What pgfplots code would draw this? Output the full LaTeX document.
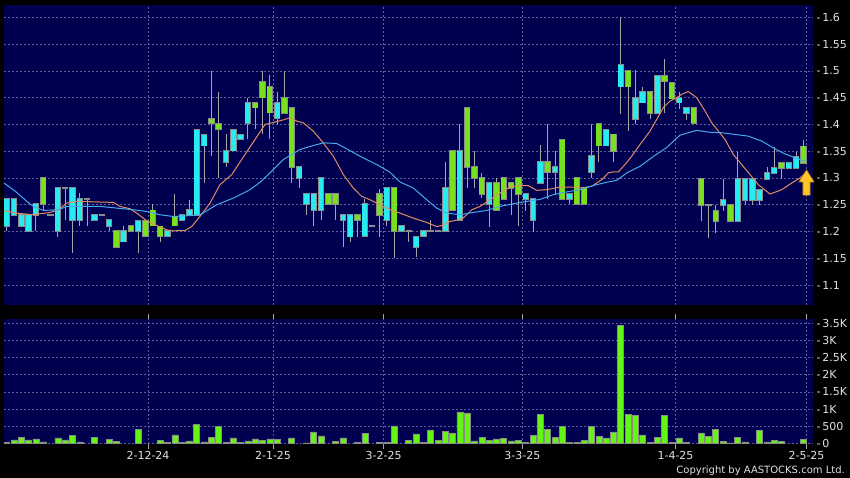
\documentclass[border=0pt]{standalone}
\usepackage{fontspec}
\setmainfont{DejaVu Sans}
\usepackage{pgfplots}
\usepackage{pgfplotstable}
\pgfplotsset{compat=1.18}

\definecolor{navy}{RGB}{0,0,80}
\definecolor{gridc}{RGB}{95,95,150}
\definecolor{cyanc}{RGB}{40,235,240}
\definecolor{greenc}{RGB}{120,225,30}
\definecolor{volg}{RGB}{100,245,20}
\definecolor{edgec}{RGB}{140,140,140}
\definecolor{wickc}{RGB}{165,165,165}
\definecolor{maA}{RGB}{225,140,95}
\definecolor{maB}{RGB}{70,170,235}
\definecolor{txt}{RGB}{225,225,225}
\definecolor{arrowc}{RGB}{255,200,40}
\definecolor{arrowe}{RGB}{200,130,20}

% x lo bot top hi
\pgfplotstableread{
x lo bot top hi
0 1.201 1.2106 1.2606 1.2606
1 1.231 1.231 1.2606 1.2606
2 1.2106 1.2106 1.2306 1.2306
3 1.2013 1.2013 1.2306 1.2306
4 1.2013 1.2313 1.2513 1.2513
7 1.1906 1.2013 1.2813 1.2813
9 1.1606 1.2213 1.2813 1.2813
10 1.2106 1.2213 1.2606 1.2719
12 1.2213 1.2213 1.2306 1.2306
14 1.2013 1.2106 1.2213 1.2213
16 1.1813 1.1813 1.2013 1.2106
18 1.1606 1.2012 1.22 1.22
22 1.1919 1.1919 1.2012 1.2012
24 1.2219 1.2219 1.2313 1.2313
25 1.2313 1.2313 1.2406 1.2594
26 1.2313 1.2313 1.3894 1.3894
27 1.2906 1.3606 1.3806 1.3806
30 1.3206 1.33 1.35 1.3813
31 1.3512 1.3512 1.3894 1.3894
32 1.3719 1.3719 1.3806 1.3806
33 1.3719 1.4019 1.44 1.45
37 1.40 1.4113 1.44 1.4613
40 1.2813 1.30 1.3206 1.3206
41 1.2306 1.2513 1.27 1.27
42 1.2106 1.2406 1.27 1.27
43 1.2219 1.2406 1.30 1.30
46 1.1719 1.2219 1.2306 1.2306
47 1.18 1.1906 1.2306 1.2306
49 1.1919 1.1919 1.2513 1.26
52 1.2094 1.2219 1.2813 1.2813
54 1.2012 1.2012 1.2106 1.2106
56 1.153 1.1706 1.1906 1.1906
57 1.1919 1.1919 1.2012 1.2012
60 1.2013 1.2013 1.2813 1.33
62 1.2219 1.2219 1.35 1.40
66 1.208 1.2513 1.2906 1.2906
71 1.239 1.2606 1.2706 1.2706
72 1.20 1.2206 1.2606 1.2606
73 1.2906 1.2906 1.33 1.3613
75 1.2688 1.3113 1.3206 1.35
77 1.251 1.2606 1.2706 1.2706
80 1.30 1.3113 1.3406 1.40
82 1.3606 1.3606 1.3894 1.3894
84 1.4188 1.4706 1.5106 1.60
86 1.40 1.4106 1.45 1.5013
87 1.4406 1.4406 1.4606 1.4706
89 1.4206 1.4206 1.4906 1.4906
92 1.4281 1.4406 1.45 1.4606
93 1.4088 1.4206 1.4313 1.4313
98 1.2388 1.2494 1.2588 1.2981
100 1.2188 1.2188 1.2981 1.3481
101 1.2494 1.2588 1.2981 1.2981
102 1.2494 1.2588 1.2981 1.2981
103 1.2494 1.2588 1.2781 1.2781
104 1.2981 1.2981 1.3088 1.32
105 1.3088 1.3088 1.3188 1.3575
107 1.3188 1.3188 1.3275 1.3275
108 1.3188 1.3188 1.3388 1.3481
}\cyantab

\pgfplotstableread{
x lo bot top hi
5 1.2406 1.2513 1.30 1.30
15 1.1706 1.1706 1.2013 1.2013
17 1.2013 1.2013 1.2106 1.2106
19 1.1919 1.1919 1.22 1.22
20 1.2112 1.2112 1.2394 1.2513
21 1.1813 1.1919 1.2094 1.2094
23 1.2112 1.2112 1.2281 1.27
28 1.3406 1.4019 1.4106 1.50
29 1.30 1.3906 1.4013 1.4613
34 1.3906 1.4313 1.44 1.44
35 1.3813 1.45 1.4794 1.50
36 1.3719 1.4219 1.4706 1.4925
38 1.4206 1.4206 1.4494 1.50
39 1.2906 1.3206 1.4306 1.4306
44 1.2513 1.2513 1.27 1.27
45 1.2219 1.2513 1.27 1.27
48 1.19 1.2219 1.2306 1.2306
51 1.19 1.2313 1.27 1.28
53 1.15 1.2013 1.2813 1.2813
61 1.2406 1.2406 1.35 1.35
63 1.2813 1.3206 1.4313 1.4313
64 1.2813 1.30 1.3206 1.35
65 1.2625 1.2706 1.30 1.31
67 1.2406 1.2406 1.2906 1.30
68 1.2606 1.2606 1.30 1.30
69 1.2313 1.2813 1.2906 1.2906
70 1.2106 1.2706 1.30 1.30
74 1.26 1.3113 1.33 1.4013
76 1.2606 1.2606 1.3706 1.3706
78 1.2513 1.2513 1.30 1.30
79 1.2513 1.2513 1.2813 1.2813
81 1.33 1.3606 1.4013 1.4013
83 1.3294 1.35 1.3813 1.3813
85 1.388 1.4706 1.50 1.50
88 1.4106 1.4206 1.4606 1.4606
90 1.4206 1.4806 1.4906 1.5219
91 1.4481 1.4481 1.4781 1.4781
94 1.4019 1.4019 1.4313 1.4313
95 1.2188 1.2494 1.2981 1.2981
97 1.1981 1.2188 1.2388 1.2494
99 1.2188 1.2188 1.2494 1.2494
106 1.2981 1.3188 1.3275 1.3275
109 1.3275 1.3275 1.3588 1.37
}\greentab

\pgfplotstableread{
x lo bot top hi
6 1.2306 1.2306 1.2306 1.2306
8 1.2218 1.2813 1.2813 1.2813
11 1.2106 1.2606 1.2606 1.2606
13 1.2306 1.2306 1.2306 1.2306
50 1.2106 1.2106 1.2106 1.2106
55 1.1813 1.2012 1.2012 1.2012
58 1.2012 1.2012 1.2012 1.2219
59 1.2012 1.2012 1.2012 1.2012
96 1.1888 1.2494 1.2494 1.2494
}\dojitab

\pgfplotstableread{
x y
-0.37 1.2388
1.37 1.2344
3.64 1.2313
5.92 1.2356
7.06 1.2406
8.21 1.2531
9.58 1.2563
14.58 1.2544
15.5 1.2469
16.87 1.2425
17.78 1.2344
19.15 1.22
20.52 1.2112
21.89 1.2031
22.79 1.2013
24.39 1.2019
25.31 1.2094
26.44 1.2281
27.81 1.2531
29.18 1.2875
30.78 1.3063
32.6 1.3438
33.97 1.3719
35.34 1.40
36.7 1.4044
38.07 1.4094
38.76 1.4125
39.67 1.4063
40.57 1.4031
41.94 1.3875
43.31 1.3656
44.68 1.3406
46.05 1.3063
47.41 1.2813
48.56 1.2656
49.7 1.2594
51.3 1.2481
52.44 1.2406
53.8 1.2344
55.62 1.225
57.46 1.2169
58.82 1.2094
59.59 1.2113
60.64 1.2188
62.24 1.2231
62.93 1.2313
63.61 1.2406
64.75 1.2469
66.11 1.2594
67.48 1.2719
68.85 1.2831
69.99 1.2856
71.35 1.2856
72.5 1.2769
73.87 1.2781
75.69 1.2831
77.51 1.2831
78.66 1.2813
80.03 1.2844
81.40 1.2969
82.30 1.3094
82.98 1.3113
83.67 1.3113
84.58 1.325
85.5 1.3406
86.63 1.3625
88.0 1.3875
88.92 1.4094
89.82 1.4313
90.74 1.4438
91.66 1.45
92.34 1.4563
93.24 1.4613
94.39 1.45
95.53 1.425
96.44 1.4031
97.35 1.3875
98.26 1.3719
99.40 1.3438
100.55 1.325
101.68 1.3063
102.82 1.2875
104.42 1.27
106.02 1.2781
107.39 1.2906
108.52 1.30
109.44 1.3106
}\maAtab

\pgfplotstableread{
x y
-0.37 1.2906
1.37 1.2731
2.74 1.2563
3.64 1.2469
5.01 1.2394
7.06 1.2406
8.21 1.2469
12.76 1.2469
14.13 1.2450
17.32 1.2406
19.15 1.2375
20.97 1.2313
22.79 1.2281
24.62 1.2294
26.44 1.2313
28.73 1.25
31.0 1.2625
33.28 1.2781
34.65 1.2919
36.02 1.3094
37.84 1.3344
40.12 1.3531
41.94 1.3606
43.31 1.3656
45.14 1.3644
46.51 1.3544
48.33 1.3406
50.62 1.325
52.44 1.3106
53.8 1.2925
55.62 1.2813
57.46 1.2594
58.82 1.2438
60.19 1.2344
62.01 1.2313
63.83 1.2356
65.66 1.2394
67.48 1.2469
69.30 1.2519
71.14 1.2563
72.96 1.2600
74.78 1.2688
76.61 1.2740
78.43 1.2781
80.25 1.2860
82.08 1.2920
83.45 1.2956
84.82 1.3094
86.64 1.3219
88.45 1.3400
90.29 1.3570
92.11 1.3800
94.39 1.3890
95.98 1.3856
97.81 1.3844
99.63 1.3813
101.45 1.3781
103.28 1.3688
105.10 1.3544
106.47 1.345
107.84 1.3375
109.21 1.3313
}\maBtab

\pgfplotstableread{
x v
0 30
1 97
2 175
3 97
4 126
5 39
7 155
8 97
9 224
10 39
12 175
14 117
15 58
18 398
21 87
22 20
23 243
24 30
25 68
26 554
27 39
28 175
29 496
30 20
31 155
32 20
33 68
34 126
35 78
36 126
37 117
39 155
41 10
42 330
43 214
45 49
46 155
48 20
49 292
51 20
52 20
53 505
55 78
56 272
57 15
58 389
59 87
60 350
61 301
62 914
63 885
64 68
65 165
66 78
67 126
68 146
69 68
70 87
71 20
72 233
73 836
74 398
75 175
76 486
77 20
78 20
79 78
80 496
81 194
82 155
83 330
84 3441
85 846
86 816
87 243
88 20
89 175
90 807
91 25
92 155
93 25
95 301
96 204
97 408
98 58
99 10
100 175
101 39
103 379
104 39
105 78
106 58
109 117
}\voltab

\pgfplotsset{
  nomk/.style={only marks, mark=none, mark size=0pt,
    mark options={draw=none, fill=none}, forget plot},
  wick/.style={nomk,
    error bars/.cd, y dir=plus, y explicit, error mark=none,
    error bar style={draw=wickc, line width=0.9bp, solid}},
  bodyedge/.style={nomk,
    error bars/.cd, y dir=plus, y explicit, error mark=none,
    error bar style={draw=edgec, line width=6.4bp, solid}},
  bodyfill/.style={nomk,
    error bars/.cd, y dir=plus, y explicit, error mark=none,
    error bar style={draw=#1, line width=4.9bp, solid}},
  chartbase/.style={
    scale only axis, anchor=south west,
    xmin=-0.37, xmax=110.3,
    axis background/.style={fill=navy},
    axis line style={draw=none},
    xtick={19.33,36.43,51.55,70.53,91.49,109.41},
    xmajorgrids, ymajorgrids,
    major grid style={gridc, dash pattern=on 2bp off 2bp, line width=0.6bp},
    yticklabel pos=right,
    ytick style={draw=none},
    tick label style={text=txt, font=\fontsize{11bp}{13bp}\selectfont},
    yticklabel style={anchor=west},
  },
}

\begin{document}
\begin{tikzpicture}
\useasboundingbox (0,0) rectangle (850bp,478bp);
\fill[black] (0,0) rectangle (850bp,478bp);

% price panel
\begin{axis}[chartbase,
  at={(4bp,173bp)}, width=809bp, height=300bp,
  ymin=1.0628, ymax=1.623,
  xticklabels={}, major tick length=0pt,
  ytick={1.1,1.15,1.2,1.25,1.3,1.35,1.4,1.45,1.5,1.55,1.6},
  yticklabels={-\,1.1,-\,1.15,-\,1.2,-\,1.25,-\,1.3,-\,1.35,-\,1.4,-\,1.45,-\,1.5,-\,1.55,-\,1.6},
  clip=false]
  % wicks
  \addplot[wick] table[x=x, y=lo, y error plus expr=\thisrow{hi}-\thisrow{lo}] {\cyantab};
  \addplot[wick] table[x=x, y=lo, y error plus expr=\thisrow{hi}-\thisrow{lo}] {\greentab};
  \addplot[wick] table[x=x, y=lo, y error plus expr=\thisrow{hi}-\thisrow{lo}] {\dojitab};
  % bodies
  \addplot[bodyedge] table[x=x, y expr=\thisrow{bot}-0.0015, y error plus expr=\thisrow{top}-\thisrow{bot}+0.003] {\cyantab};
  \addplot[bodyfill=cyanc] table[x=x, y=bot, y error plus expr=\thisrow{top}-\thisrow{bot}] {\cyantab};
  \addplot[bodyedge] table[x=x, y expr=\thisrow{bot}-0.0015, y error plus expr=\thisrow{top}-\thisrow{bot}+0.003] {\greentab};
  \addplot[bodyfill=greenc] table[x=x, y=bot, y error plus expr=\thisrow{top}-\thisrow{bot}] {\greentab};
  \addplot[bodyedge] table[x=x, y expr=\thisrow{bot}-0.0015, y error plus expr=0.003] {\dojitab};
  % moving averages
  \addplot[maA, line width=1bp, no marks] table[x=x, y=y] {\maAtab};
  \addplot[maB, line width=1bp, no marks] table[x=x, y=y] {\maBtab};
  % arrow
  \addplot[fill=arrowc, draw=arrowe, line width=0.6bp, no marks] coordinates {
    (109.41,1.315) (110.44,1.2925) (109.89,1.2925) (109.89,1.268)
    (108.93,1.268) (108.93,1.2925) (108.39,1.2925)} -- cycle;
\end{axis}

% volume panel
\begin{axis}[chartbase,
  at={(4bp,34bp)}, width=809bp, height=125bp,
  ymin=-20, ymax=3625,
  ytick={0,500,1000,1500,2000,2500,3000,3500},
  yticklabels={-\,0,-\,500,-\,1K,-\,1.5K,-\,2K,-\,2.5K,-\,3K,-\,3.5K},
  xticklabels={2-12-24,2-1-25,3-2-25,3-3-25,1-4-25,2-5-25},
  tick align=outside, major tick length=5bp,
  xtick style={draw=wickc, line width=0.6bp},
  yticklabel style={xshift=-5bp},
  xticklabel style={yshift=1bp}]
  \addplot[ybar, bar width=6bp, fill=volg, draw=edgec, line width=0.6bp] table[x=x, y=v] {\voltab};
\end{axis}

\node[anchor=east, text=txt, inner sep=0pt, font=\fontsize{10bp}{12bp}\selectfont] at (845bp,7.5bp) {Copyright by AASTOCKS.com Ltd.};
\end{tikzpicture}
\end{document}
